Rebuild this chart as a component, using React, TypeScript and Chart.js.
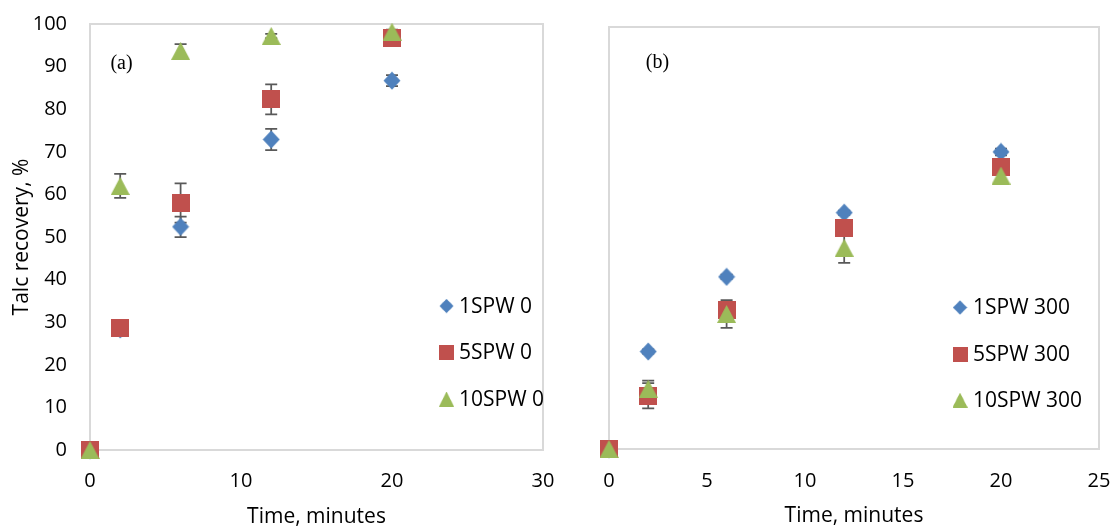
import React, { useEffect, useRef } from "react";
import { Chart, registerables } from "chart.js";

Chart.register(...registerables);

// ---------- data ----------
const timesA = [0, 2, 6, 12, 20];
const spw1_0 = [0, 28.3, 52.4, 72.9, 86.7];
const spw1_0Err = [0, 0.6, 2.4, 2.5, 1.3];
const spw5_0 = [0, 28.7, 58.0, 82.3, 96.8];
const spw5_0Err = [0, 0.5, 4.6, 3.5, 0.8];
const spw10_0 = [0, 62.0, 93.7, 97.2, 98.2];
const spw10_0Err = [0, 2.8, 1.6, 0.5, 0.5];

const timesB = [0, 2, 6, 12, 20];
const spw1_300 = [0, 23.1, 40.8, 56.0, 70.4];
const spw1_300Err = [0, 0.5, 0.5, 0.5, 0.8];
const spw5_300 = [0, 12.6, 32.9, 52.3, 66.8];
const spw5_300Err = [0, 3.0, 1.0, 1.5, 1.0];
const spw10_300 = [0, 14.3, 32.0, 47.7, 64.8];
const spw10_300Err = [0, 1.9, 3.3, 3.6, 1.0];

const labelsA = ["1SPW 0", "5SPW 0", "10SPW 0"];
const labelsB = ["1SPW 300", "5SPW 300", "10SPW 300"];

const BLUE = "#4F81BD";
const RED = "#C0504D";
const GREEN = "#9BBB59";
const FONT = "'Open Sans', 'Liberation Sans', sans-serif";

type Kind = "diamond" | "square" | "triangle";

function makeMarker(kind: Kind, color: string): HTMLCanvasElement {
  const c = document.createElement("canvas");
  const ctx = c.getContext("2d")!;
  if (kind === "diamond") {
    c.width = 18;
    c.height = 19;
    ctx.fillStyle = color;
    ctx.beginPath();
    ctx.moveTo(9, 0.5);
    ctx.lineTo(17.5, 9.5);
    ctx.lineTo(9, 18.5);
    ctx.lineTo(0.5, 9.5);
    ctx.closePath();
    ctx.fill();
  } else if (kind === "square") {
    c.width = 18;
    c.height = 18;
    ctx.fillStyle = color;
    ctx.fillRect(0, 0, 18, 18);
  } else {
    c.width = 19;
    c.height = 18;
    ctx.fillStyle = color;
    ctx.beginPath();
    ctx.moveTo(9.5, 0);
    ctx.lineTo(19, 18);
    ctx.lineTo(0, 18);
    ctx.closePath();
    ctx.fill();
  }
  return c;
}

interface PanelCfg {
  times: number[];
  series: number[][];
  errors: number[][];
  labels: string[];
  xMax: number;
  xStep: number;
  showY: boolean;
  padding: { top: number; right: number; left: number };
  xAxisHeight: number;
  xTickPad: number;
  xTitlePad: number;
  panelLabel: string;
  panelLabelPos: [number, number];
  legendMarkerX: number;
  legendTextX: number;
  legendYs: number[];
}

function buildChart(canvas: HTMLCanvasElement, cfg: PanelCfg) {
  const kinds: Kind[] = ["diamond", "square", "triangle"];
  const colors = [BLUE, RED, GREEN];
  const markers = kinds.map((k, i) => makeMarker(k, colors[i]));

  const datasets = cfg.series.map((vals, i) => ({
    label: cfg.labels[i],
    data: cfg.times.map((t, j) => ({ x: t, y: vals[j] })),
    pointStyle: markers[i] as any,
    pointRadius: 9,
    pointBorderWidth: 0,
    backgroundColor: colors[i],
    borderColor: colors[i],
    showLine: false,
    clip: false as any,
    order: 3 - i,
  }));

  const boxPlugin = {
    id: "box",
    beforeDatasetsDraw(chart: any) {
      const { ctx, chartArea: a } = chart;
      ctx.save();
      ctx.strokeStyle = "#D9D9D9";
      ctx.lineWidth = 2;
      ctx.strokeRect(a.left, a.top, a.right - a.left, a.bottom - a.top);
      ctx.restore();
      // error bars
      const xs = chart.scales.x;
      const ys = chart.scales.y;
      ctx.save();
      ctx.strokeStyle = "#595959";
      ctx.lineWidth = 1.75;
      cfg.errors.forEach((errs, i) => {
        errs.forEach((e, j) => {
          if (!e) return;
          const px = xs.getPixelForValue(cfg.times[j]);
          const v = cfg.series[i][j];
          const y1 = ys.getPixelForValue(v + e);
          const y2 = ys.getPixelForValue(v - e);
          ctx.beginPath();
          ctx.moveTo(px, y1);
          ctx.lineTo(px, y2);
          ctx.moveTo(px - 6, y1);
          ctx.lineTo(px + 6, y1);
          ctx.moveTo(px - 6, y2);
          ctx.lineTo(px + 6, y2);
          ctx.stroke();
        });
      });
      ctx.restore();
    },
    afterDraw(chart: any) {
      const { ctx } = chart;
      ctx.save();
      ctx.fillStyle = "#000";
      ctx.font = "20px 'Liberation Serif', 'DejaVu Serif', serif";
      ctx.textAlign = "center";
      ctx.textBaseline = "middle";
      ctx.fillText(cfg.panelLabel, cfg.panelLabelPos[0], cfg.panelLabelPos[1]);
      ctx.font = `21px ${FONT}`;
      ctx.textAlign = "left";
      cfg.labels.forEach((lab, i) => {
        const y = cfg.legendYs[i];
        ctx.drawImage(markers[i], cfg.legendMarkerX - 7.5, y - 7.5, 15, 15);
        ctx.fillText(lab, cfg.legendTextX, y + 1);
      });
      ctx.restore();
    },
  };

  return new Chart(canvas, {
    type: "scatter",
    data: { datasets: datasets as any },
    plugins: [boxPlugin],
    options: {
      responsive: false,
      animation: false,
      events: [],
      layout: { autoPadding: false, padding: { top: cfg.padding.top, right: cfg.padding.right, left: cfg.padding.left, bottom: 0 } },
      plugins: { legend: { display: false }, tooltip: { enabled: false } },
      scales: {
        x: {
          type: "linear",
          min: 0,
          max: cfg.xMax,
          ticks: { stepSize: cfg.xStep, padding: cfg.xTickPad, color: "#000", font: { family: FONT, size: 20 } },
          grid: { display: false, drawTicks: false },
          border: { display: false },
          title: {
            display: true,
            text: "Time, minutes",
            color: "#000",
            font: { family: FONT, size: 21, lineHeight: 1 },
            padding: { top: 0, bottom: cfg.xTitlePad },
          },
          afterFit: (s: any) => {
            s.height = cfg.xAxisHeight;
            s.paddingLeft = 0;
            s.paddingRight = 0;
            s.paddingTop = 0;
            s.paddingBottom = 0;
          },
        },
        y: {
          display: cfg.showY,
          min: 0,
          max: 100,
          ticks: { stepSize: 10, padding: 23, color: "#000", font: { family: FONT, size: 20 } },
          grid: { display: false, drawTicks: false },
          border: { display: false },
          title: {
            display: true,
            text: "Talc recovery, %",
            color: "#000",
            font: { family: FONT, size: 21, lineHeight: 1 },
            padding: { top: 11.5, bottom: 0 },
          },
          afterFit: (s: any) => {
            s.width = cfg.showY ? 90 : 0;
            s.paddingLeft = 0;
            s.paddingRight = 0;
            s.paddingTop = 0;
            s.paddingBottom = 0;
          },
        },
      },
    } as any,
  });
}

export default function App() {
  const refA = useRef<HTMLCanvasElement>(null);
  const refB = useRef<HTMLCanvasElement>(null);

  useEffect(() => {
    document.body.style.margin = "0";
    const a = buildChart(refA.current!, {
      times: timesA,
      series: [spw1_0, spw5_0, spw10_0],
      errors: [spw1_0Err, spw5_0Err, spw10_0Err],
      labels: labelsA,
      xMax: 30,
      xStep: 10,
      showY: true,
      padding: { top: 24, right: 27, left: 0 },
      xAxisHeight: 78,
      xTickPad: 19,
      xTitlePad: 0,
      panelLabel: "(a)",
      panelLabelPos: [121.5, 64],
      legendMarkerX: 446.5,
      legendTextX: 459,
      legendYs: [306, 352.5, 399],
    });
    const b = buildChart(refB.current!, {
      times: timesB,
      series: [spw1_300, spw5_300, spw10_300],
      errors: [spw1_300Err, spw5_300Err, spw10_300Err],
      labels: labelsB,
      xMax: 25,
      xStep: 5,
      showY: false,
      padding: { top: 27, right: 15, left: 39 },
      xAxisHeight: 79,
      xTickPad: 20,
      xTitlePad: 1,
      panelLabel: "(b)",
      panelLabelPos: [657.5 - 570, 63],
      legendMarkerX: 960 - 570,
      legendTextX: 973 - 570,
      legendYs: [307.5, 354, 400],
    });
    return () => {
      a.destroy();
      b.destroy();
    };
  }, []);

  return (
    <div style={{ position: "absolute", left: 0, top: 0, width: 1114, height: 528, background: "#fff" }}>
      <canvas ref={refA} width={570} height={528} style={{ position: "absolute", left: 0, top: 0, display: "block" }} />
      <canvas ref={refB} width={544} height={528} style={{ position: "absolute", left: 570, top: 0, display: "block" }} />
    </div>
  );
}
